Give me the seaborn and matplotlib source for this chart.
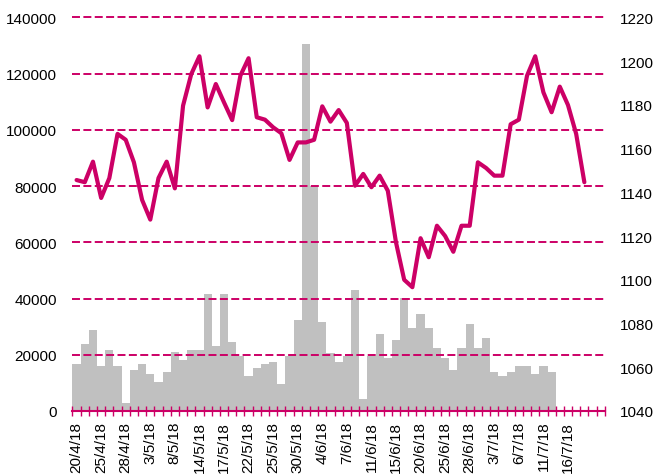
import numpy as np
import matplotlib.pyplot as plt
import seaborn as sns

# daily volume (left axis, bars) and index level (right axis, line)
volume = [16700, 23800, 28800, 16100, 21700, 16100, 2700, 14700, 16700, 13300,
          10400, 14000, 21000, 18200, 21700, 21700, 41600, 23200, 41600, 24600,
          19700, 12600, 15300, 16700, 17500, 9600, 19700, 32400, 130500, 79900,
          31800, 20500, 17500, 19700, 43000, 4300, 19700, 27400, 18800, 25200,
          40200, 29500, 34500, 29500, 22400, 18800, 14700, 22400, 30900, 22400,
          26000, 13800, 12600, 13800, 16100, 16100, 13200, 16100, 13800]

price = [1145.6, 1144.6, 1154, 1137.4, 1146.5, 1166.7, 1164, 1153.7, 1136.5, 1127.5,
         1146.5, 1154, 1141.8, 1179.6, 1194, 1202.2, 1178.8, 1189.5, 1181.1, 1173,
         1193.3, 1201.3, 1174.3, 1173.2, 1169.7, 1167, 1154.8, 1162.8, 1162.8, 1164,
         1179.3, 1172.3, 1177.6, 1171.7, 1143, 1148.4, 1142.3, 1147.6, 1140.7, 1117.1,
         1100, 1096.6, 1119, 1110.3, 1124.7, 1120, 1112.8, 1124.7, 1124.7, 1153.7,
         1151.1, 1147.6, 1147.6, 1171.1, 1173.2, 1193.3, 1202.2, 1185.7, 1176.6, 1188.3,
         1179.9, 1166.7, 1144.6]

tick_labels = ['20/4/18', '25/4/18', '28/4/18', '3/5/18', '8/5/18', '14/5/18',
               '17/5/18', '22/5/18', '25/5/18', '30/5/18', '4/6/18', '7/6/18',
               '11/6/18', '15/6/18', '20/6/18', '25/6/18', '28/6/18', '3/7/18',
               '6/7/18', '11/7/18', '16/7/18']
n_slots = 65  # category slots on the x axis

sns.set_theme(style="white")
plt.rcParams['font.family'] = ['Liberation Sans', 'DejaVu Sans']

pink = '#CC0066'
grey = '#C0C0C0'

fig = plt.figure(figsize=(6.56, 4.77), dpi=100)
ax = fig.add_axes([0.1105, 0.1363, 0.8115, 0.8253])

sns.barplot(x=np.arange(len(volume)), y=volume, width=1.0, color=grey,
            saturation=1, linewidth=0, ax=ax)

ax2 = ax.twinx()
sns.lineplot(x=np.arange(len(price)), y=price, color=pink, lw=3, ax=ax2)

# left axis + dashed grid drawn over the bars
ax.set_ylim(0, 140000)
ax.set_yticks(range(0, 140001, 20000))
ax.yaxis.grid(True, color=pink, lw=1.4, ls=(0, (4.1, 1.75)))
ax.xaxis.grid(False)
ax.set_axisbelow(False)
ax.tick_params(axis='y', length=0, pad=11, labelsize=11, labelcolor='black')

# right axis
ax2.set_ylim(1040, 1220)
ax2.set_yticks(range(1040, 1221, 20))
ax2.tick_params(axis='y', length=0, pad=11, labelsize=11, labelcolor='black')
ax2.grid(False)

# x axis: labels every 3rd day, crossing ticks at every slot boundary
ax.set_xlim(-0.5, n_slots - 0.5)
ax.set_xticks(np.arange(0, 3 * len(tick_labels), 3))
ax.set_xticklabels(tick_labels, rotation=90)
ax.set_xticks(np.arange(-0.5, n_slots, 1), minor=True)
ax.tick_params(axis='x', which='major', length=0, pad=7, labelsize=11, labelcolor='black')
ax.tick_params(axis='x', which='minor', bottom=True, direction='inout',
               length=7, width=1, color=pink)
ax.set_xlabel('')
ax.set_ylabel('')
ax2.set_xlabel('')
ax2.set_ylabel('')

for side in ['top', 'left', 'right']:
    ax.spines[side].set_visible(False)
for side in ['top', 'left', 'right', 'bottom']:
    ax2.spines[side].set_visible(False)
ax.spines['bottom'].set_color(pink)
ax.spines['bottom'].set_linewidth(1.5)

# keep the top grid line whole at the edge of the axes
for gl in ax.yaxis.get_gridlines():
    gl.set_clip_on(False)

fig.savefig('out.png', dpi=100)
